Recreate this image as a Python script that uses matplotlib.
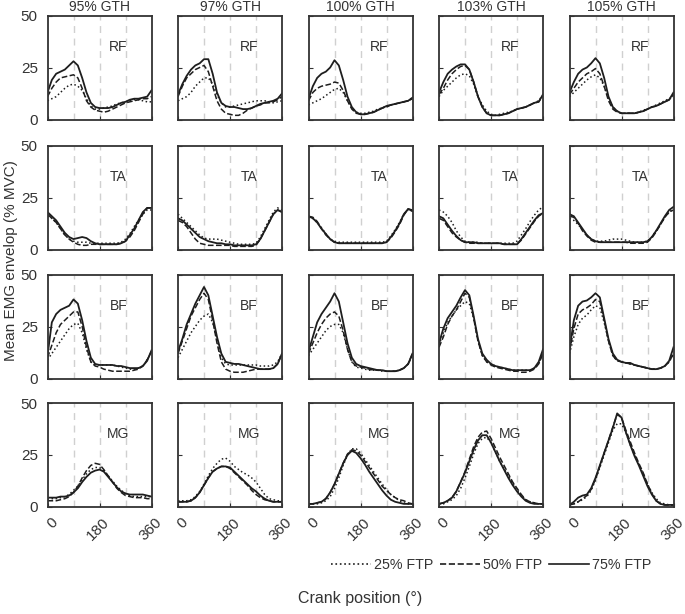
import numpy as np
import matplotlib
matplotlib.use('Agg')
import matplotlib.pyplot as plt
from matplotlib.transforms import ScaledTranslation

# crank angle sampled every 15 deg
crank = np.arange(0, 361, 15)

conditions = ['95% GTH', '97% GTH', '100% GTH', '103% GTH', '105% GTH']
muscles = ['RF', 'TA', 'BF', 'MG']
intensities = ['25% FTP', '50% FTP', '75% FTP']

# RF, one row per GTH condition
rf_25 = [
    [9, 10, 11, 13, 15, 16.5, 17, 16, 14, 10, 6.5, 5, 5, 5.5, 6, 6.5, 7.5, 8, 8.5, 9, 9.5, 9.5, 9, 8.5, 8.5],
    [9, 10, 11, 13, 16, 18, 20, 20, 17, 12, 8, 6, 6, 6.5, 7, 7.5, 8, 8.5, 9, 9, 9, 8.5, 8, 8.5, 9],
    [7, 8, 9, 10, 11.5, 13, 14.5, 15, 13, 9, 5.5, 3.5, 3, 3, 3.5, 4, 5, 5.5, 6.5, 7, 7.5, 8, 8.5, 9, 10.5],
    [11, 14, 16, 18, 20, 21.5, 22, 21, 17, 11, 7, 4, 2.5, 2, 2.5, 3, 3.5, 4, 5, 5.5, 6, 7, 8, 9, 12],
    [11, 13, 15, 17, 19, 20.5, 21.5, 20, 16, 10, 6, 4, 3, 3, 3, 3, 3.5, 4.5, 5, 6, 7, 8, 9, 10, 11],
]
rf_50 = [
    [11, 15, 18, 20, 20.5, 21, 21.5, 20, 15, 9, 6, 4.5, 4, 3.5, 4, 5, 6, 7, 8, 8.5, 9, 9.5, 10, 10, 11],
    [11, 16, 20, 22, 24, 25, 26, 23, 16, 9, 5, 3, 2.5, 2, 2, 3, 4.5, 5.5, 6.5, 7, 8, 8, 8.5, 9.5, 11],
    [9, 13, 15, 16, 16.5, 17, 18, 17.5, 14, 9, 5, 3, 2.5, 2.5, 3, 3.5, 4.5, 5.5, 6, 7, 7.5, 8, 8.5, 9, 10],
    [12, 15, 19, 22, 24, 25.5, 26, 24, 18, 11, 6, 3, 2, 2, 2, 2.5, 3, 4, 5, 5.5, 6, 7, 8, 8.5, 11.5],
    [12, 15, 18, 20, 22, 23, 24.5, 22, 16, 9, 5, 3.5, 3, 3, 3, 3, 3.5, 4, 5, 6, 6.5, 7.5, 8.5, 9.5, 12],
]
rf_75 = [
    [13, 19, 22, 23, 24, 26, 28, 26, 20, 13, 8, 6, 5.5, 5.5, 5.5, 6, 7, 8, 8.5, 9.5, 10, 10, 10.5, 11, 14],
    [12, 17, 21, 24, 26, 27, 29, 29, 22, 13, 8, 6.5, 6, 6, 5.5, 5, 5, 5.5, 6.5, 7.5, 8, 8.5, 9, 10, 12.5],
    [10, 16, 20, 22, 23, 25, 28.5, 26, 19, 11, 6, 3.5, 2.5, 2.5, 3, 3.5, 4.5, 5.5, 6.5, 7, 7.5, 8, 8.5, 9, 10.5],
    [13, 18, 22, 24, 25.5, 26.5, 26.5, 24, 18, 11, 6, 3, 2, 2, 2, 2.5, 3, 4, 5, 5.5, 6, 7, 8, 8.5, 12],
    [13, 18, 22, 24, 25, 27, 29.5, 27, 20, 11, 6, 4, 3, 3, 3, 3, 3.5, 4, 5, 6, 6.5, 7.5, 8.5, 9.5, 13],
]

# TA
ta_25 = [
    [16, 15, 13, 10, 7, 5, 4, 3.5, 3.5, 3.5, 3, 3, 3, 3, 3, 3, 3, 3.5, 5, 7.5, 11, 14, 17, 19, 19],
    [17, 15, 13, 11, 9, 7, 5.5, 5, 5, 5, 4.5, 4, 3.5, 3, 2.5, 2.5, 2.5, 2.5, 3, 6, 10, 14, 18, 20, 19],
    [15.5, 15, 13, 10.5, 7.5, 5, 4, 3.5, 3.5, 3.5, 3.5, 3.5, 3.5, 3.5, 3.5, 3.5, 3.5, 3.5, 4, 6.5, 9.5, 13, 17, 19, 18.5],
    [19, 18, 16, 13, 9, 6, 4, 3.5, 3.5, 3.5, 3, 3, 3, 3, 3, 3, 3, 3, 4, 7, 10, 13.5, 16.5, 19, 20.5],
    [15, 14, 12, 9.5, 7, 5, 4, 4, 4, 4.5, 5, 5, 5, 4.5, 4, 3.5, 3.5, 3.5, 4, 6, 9, 12, 15.5, 18, 19.5],
]
ta_50 = [
    [17, 15, 13, 10, 7, 5, 3.5, 2.5, 2, 2, 2.5, 2.5, 2.5, 2.5, 2.5, 2.5, 2.5, 3, 4, 6, 9, 13, 17, 20, 20],
    [14, 13, 11, 8, 5, 3, 2.5, 2, 2, 2, 2, 2, 2, 1.5, 1.5, 1.5, 1.5, 1.5, 2, 5, 9, 13, 17, 19, 18],
    [16, 15.5, 13.5, 10, 7, 5, 3.5, 3, 3, 3, 3, 3, 3, 3, 3, 3, 3, 3, 3.5, 5.5, 8.5, 12, 16.5, 19.5, 19],
    [15, 14, 11, 8, 6, 4.5, 3.5, 3, 3, 3, 3, 3, 3, 3, 3, 2.5, 2.5, 2.5, 2.5, 4.5, 7.5, 10.5, 13.5, 16, 17.5],
    [16, 15.5, 12.5, 9, 6.5, 4.5, 3.5, 3.5, 3.5, 3.5, 3.5, 3.5, 3.5, 3.5, 3, 3, 3, 3, 3.5, 5.5, 8.5, 12, 15.5, 18, 19],
]
ta_75 = [
    [18, 16, 14, 11, 8, 6, 5, 5.5, 6, 5.5, 4, 3, 2.5, 2.5, 2.5, 2.5, 2.5, 3, 4, 7, 10, 14, 18, 20, 20],
    [15, 14, 12, 10, 8, 6, 5, 4, 3.5, 3, 3, 2.5, 2.5, 2, 2, 2, 2, 2, 2.5, 5, 9, 13, 17, 19, 18],
    [16, 15, 13, 10, 7.5, 5, 3.5, 3, 3, 3, 3, 3, 3, 3, 3, 3, 3, 3, 3.5, 6, 9, 12.5, 17, 19.5, 18.5],
    [16, 15, 12, 9, 6.5, 4.5, 3.5, 3.5, 3.5, 3, 3, 3, 3, 3, 3, 2.5, 2.5, 2.5, 2.5, 5, 8, 11, 14, 16.5, 17.5],
    [17, 16, 13, 10, 7, 5, 4, 3.5, 3.5, 3.5, 3.5, 3.5, 3.5, 3.5, 3.5, 3.5, 3.5, 3.5, 4, 6, 9, 12.5, 16, 19, 20.5],
]

# BF
bf_25 = [
    [9, 12, 15, 18, 21, 24, 26, 26.5, 22, 14, 8, 6.5, 6.5, 6.5, 6.5, 6.5, 6, 5.5, 5, 4.5, 4.5, 5, 6, 9, 13],
    [10, 14, 18, 22, 25, 28, 30, 31, 27, 19, 10, 7, 6.5, 6.5, 6.5, 6.5, 6.5, 6.5, 6.5, 6, 6, 6, 6.5, 8, 12],
    [11, 14, 17, 20, 23, 25, 26, 26, 22, 14, 8, 5.5, 5, 4.5, 4, 4, 4, 3.5, 3.5, 3.5, 3.5, 4, 5, 7, 11],
    [16, 22, 27, 30, 33, 35, 37, 36, 29, 18, 11, 8, 7, 6, 5.5, 5, 4.5, 4, 4, 4, 4, 4, 5, 7, 13],
    [12, 20, 26, 29, 30.5, 33, 35, 34, 27, 18, 11, 8.5, 8, 7.5, 7, 6.5, 6, 5.5, 5, 4.5, 4.5, 5, 6, 8, 12],
]
bf_50 = [
    [10, 16, 22, 26, 28, 30, 32, 32, 25, 15, 8, 6, 5.5, 4.5, 4, 3.5, 3.5, 3.5, 3.5, 3.5, 4, 4.5, 6, 9, 13],
    [12, 18, 24, 30, 34, 38, 41, 38, 28, 17, 8, 4.5, 3.5, 3, 3, 3, 3.5, 4, 4.5, 4.5, 4.5, 4.5, 5, 7, 12],
    [12, 17, 22, 26, 29, 31, 32, 30, 23, 14, 8, 6, 5.5, 5, 4.5, 4, 4, 4, 3.5, 3.5, 3.5, 4, 5, 7, 12],
    [15, 20, 26, 30, 33, 37, 41, 39, 29, 18, 11, 8, 6.5, 5.5, 5, 4.5, 4, 3.5, 3.5, 3, 3, 3.5, 4.5, 7, 12],
    [13, 24, 31, 33, 34, 35.5, 38, 37, 28, 18, 11, 8.5, 8, 7.5, 7, 6.5, 6, 5.5, 5, 4.5, 4.5, 5, 6, 8, 12],
]
bf_75 = [
    [11, 27, 31, 33, 34, 35, 38, 36, 28, 18, 10, 7, 6.5, 6.5, 6.5, 6.5, 6, 6, 5.5, 5, 5, 5, 6, 8.5, 13.5],
    [13, 19, 26, 31, 36, 40, 44, 40, 30, 20, 12, 8, 7.5, 7, 7, 6.5, 6, 5.5, 5, 4.5, 4.5, 4.5, 5, 7, 12],
    [13, 20, 27, 31, 34, 37, 41, 37, 27, 17, 10, 7, 6, 5.5, 5, 4.5, 4, 4, 3.5, 3.5, 3.5, 4, 5, 7, 12],
    [17, 24, 29, 32, 35, 39, 42.5, 40, 30, 19, 12, 9, 7, 6, 5.5, 5, 4.5, 4, 4, 4, 4, 4, 5, 8, 14],
    [14, 28, 35, 37, 37.5, 39, 41, 39, 29, 19, 12, 9, 8, 7.5, 7.5, 6.5, 6, 5.5, 5, 4.5, 4.5, 5, 6, 8.5, 15],
]

# MG
mg_25 = [
    [4, 4, 4, 4.5, 5, 6, 8, 10, 13, 16, 18, 19, 19, 17.5, 15, 12.5, 10, 8, 6.5, 5.5, 5, 5, 5, 5, 5],
    [3, 3, 3, 3.5, 5, 7.5, 11, 15, 18.5, 21, 23, 23.5, 22, 19.5, 18, 16.5, 15.5, 14, 12, 9, 6, 4, 3.5, 3, 3],
    [1.5, 1.5, 1.5, 2, 3, 5, 9, 14, 20, 25, 28, 28, 26, 23, 20, 17, 14, 11, 8.5, 6, 4.5, 3, 2, 1.5, 1.5],
    [1.5, 1.5, 2.5, 3.5, 5.5, 9, 14, 19.5, 25.5, 30.5, 33, 33.5, 31, 26.5, 22, 18.5, 15, 11.5, 8, 5.5, 3.5, 2.5, 2, 1.5, 1.5],
    [1, 1.5, 2.5, 3.5, 5, 8, 13, 19, 25, 31, 37, 40, 40, 36, 30, 25, 20.5, 16, 11, 7, 4, 2, 1.5, 1, 1],
]
mg_50 = [
    [3, 3, 3, 3.5, 4, 5, 7, 10, 14, 17.5, 20, 21, 20.5, 18, 15, 12, 9, 7, 5.5, 5, 4.5, 4.5, 4.5, 4, 4],
    [2.5, 2.5, 2.5, 3, 4.5, 7, 10.5, 14, 17, 18.5, 19.5, 19.5, 18.5, 16.5, 14.5, 12.5, 10.5, 8, 6, 4.5, 3.5, 3, 2.5, 2.5, 2.5],
    [1.5, 1.5, 2, 2.5, 4, 7, 11, 16, 21, 25.5, 27.5, 27, 25, 22, 19, 16, 13, 10, 8, 6, 4.5, 3.5, 3, 2, 1.5],
    [1.5, 2, 3, 4.5, 7.5, 12, 17, 23, 29, 33.5, 36, 36.5, 33, 28.5, 24, 20, 16, 12, 9, 6, 3.5, 2.5, 2, 1.5, 1.5],
    [1, 1.5, 2.5, 4, 5.5, 8.5, 13.5, 19.5, 26, 32, 38.5, 44.5, 43, 37, 31.5, 26, 21, 16.5, 11, 6.5, 3, 1.5, 1, 1, 1],
]
mg_75 = [
    [4.5, 4.5, 4.5, 5, 5, 5.5, 7, 9, 12, 14.5, 16.5, 17.5, 18, 17, 14.5, 12, 9.5, 7.5, 6.5, 6, 6, 6, 6, 5.5, 5],
    [2.5, 2.5, 2.5, 3, 4.5, 7, 10.5, 14, 17, 18.5, 19.5, 19.5, 19, 17, 15, 13, 11, 9, 7.5, 5.5, 4, 3, 2.5, 2.5, 2.5],
    [1.5, 1.5, 2, 2.5, 4, 7, 11, 16, 21, 25, 27, 26, 23.5, 20.5, 17, 14, 11, 8, 5.5, 3.5, 2.5, 2, 1.5, 1.5, 1.5],
    [1.5, 2, 3, 4.5, 7.5, 12, 16.5, 22, 27.5, 32, 34.5, 34.5, 31, 26.5, 22, 18, 14, 10.5, 7.5, 5, 3, 2, 1.5, 1.5, 1.5],
    [1, 2.5, 4.5, 5.5, 6, 9, 14, 20, 26, 32, 38, 45, 43, 36, 30, 24.5, 20, 15, 10, 6, 3, 1.5, 1, 1, 1],
]

data = {
    'RF': (rf_25, rf_50, rf_75),
    'TA': (ta_25, ta_50, ta_75),
    'BF': (bf_25, bf_50, bf_75),
    'MG': (mg_25, mg_50, mg_75),
}

styles = [':', '--', '-']
line_col = '#1e1e1e'
txt_col = '#333333'

plt.rcParams['font.family'] = ['Liberation Sans', 'DejaVu Sans']

fig = plt.figure(figsize=(6.85, 6.14), dpi=100)

W, H = 685, 614
left0, col_step, ax_w = 47.5, 130.5, 104
tops = [15.5, 145.5, 274.5, 403]
ax_h = 104

# shift of the rotated crank labels (right, down)
lab_shift = ScaledTranslation(8 / 100, -8 / 100, fig.dpi_scale_trans)

for r, m in enumerate(muscles):
    for c, cond in enumerate(conditions):
        ax = fig.add_axes([(left0 + c * col_step) / W, 1 - (tops[r] + ax_h) / H,
                           ax_w / W, ax_h / H])
        for xv in [90, 180, 270]:
            ax.axvline(xv, color='#d0d0d0', ls=(0, (5, 4)), lw=1.0, zorder=0)
        for k in range(3):
            ax.plot(crank, data[m][k][c], ls=styles[k], color=line_col,
                    lw=1.1 if k < 2 else 1.3)
        ax.set_xlim(0, 360)
        ax.set_ylim(0, 50)
        ax.set_xticks([0, 180, 360])
        ax.set_yticks([0, 25, 50])
        ax.tick_params(direction='in', length=3, colors=txt_col, labelsize=11)
        ax.tick_params(axis='y', pad=7)
        ax.tick_params(axis='x', pad=4)
        for sp in ax.spines.values():
            sp.set_linewidth(1.3)
            sp.set_color('#333333')
        ax.text(245, 35, m, ha='center', va='center', fontsize=10, color=txt_col)
        if r == 0:
            ax.set_title(cond, fontsize=10, color=txt_col, pad=3)
        if c != 0:
            ax.set_yticklabels([])
        if r != 3:
            ax.set_xticklabels([])
        else:
            for lab in ax.get_xticklabels():
                lab.set_rotation(45)
                lab.set_rotation_mode('anchor')
                lab.set_ha('right')
                lab.set_va('center')
                lab.set_transform(lab.get_transform() + lab_shift)

handles = [plt.Line2D([], [], ls=styles[k], color=line_col, lw=1.2) for k in range(3)]
fig.legend(handles, intensities, loc='center', bbox_to_anchor=(0.717, 0.08),
           ncol=3, frameon=False, fontsize=10.3, handlelength=2.8,
           columnspacing=0.5, handletextpad=0.2, labelcolor=txt_col)

fig.text(0.525, 0.025, 'Crank position (°)', ha='center', va='center',
         fontsize=11.5, color=txt_col)
fig.text(0.016, 0.575, 'Mean EMG envelop (% MVC)', ha='center', va='center',
         rotation=90, fontsize=11, color=txt_col)

fig.savefig('out.png', dpi=100)
